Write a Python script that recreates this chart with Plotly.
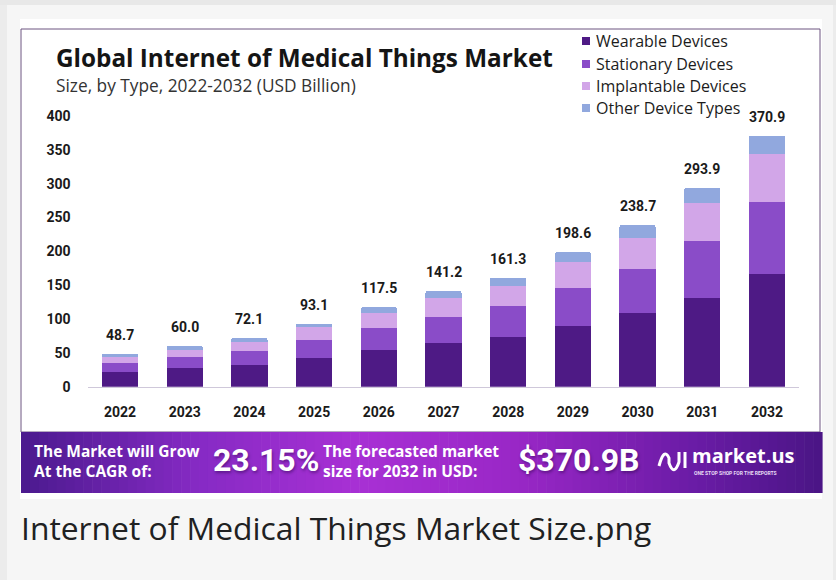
import plotly.graph_objects as go

# ---------------- data ----------------
years = ["2022", "2023", "2024", "2025", "2026", "2027", "2028", "2029", "2030", "2031", "2032"]
wearable = [21.3, 27.1, 32.0, 42.8, 53.6, 64.0, 72.8, 90.0, 108.2, 131.8, 166.8]
stationary = [13.2, 16.7, 21.2, 26.0, 33.0, 39.4, 45.8, 55.7, 66.4, 84.2, 106.3]
implantable = [9.8, 10.4, 13.2, 19.3, 22.2, 27.6, 30.5, 38.3, 45.8, 56.0, 70.4]
other = [4.4, 5.8, 5.7, 5.0, 8.7, 10.2, 12.2, 14.6, 18.3, 21.9, 27.4]
totals = [48.7, 60.0, 72.1, 93.1, 117.5, 141.2, 161.3, 198.6, 238.7, 293.9, 370.9]
total_labels = ["48.7", "60.0", "72.1", "93.1", "117.5", "141.2", "161.3", "198.6", "238.7", "293.9", "370.9"]
y_ticks = [0, 50, 100, 150, 200, 250, 300, 350, 400]
series_names = ["Wearable Devices", "Stationary Devices", "Implantable Devices", "Other Device Types"]
series_colors = ["#4e1a85", "#8a4cc8", "#d2a6e8", "#91a8de"]

W, H = 836, 580


def px(x):
    return x / W


def py(y):
    return 1 - y / H


fig = go.Figure()
for name, vals, col in zip(series_names, [wearable, stationary, implantable, other], series_colors):
    fig.add_trace(go.Bar(x=years, y=vals, name=name, marker=dict(color=col, line=dict(width=0)),
                         showlegend=False, hoverinfo="x+y+name"))

shapes = []
annotations = []

# ---- page frame ----
shapes.append(dict(type="rect", xref="paper", yref="paper", x0=0, x1=1, y0=py(5), y1=1,
                   fillcolor="#e8e8e8", line=dict(width=0), layer="below"))
shapes.append(dict(type="rect", xref="paper", yref="paper", x0=0, x1=px(7), y0=0, y1=py(5),
                   fillcolor="#ececec", line=dict(width=0), layer="below"))
shapes.append(dict(type="rect", xref="paper", yref="paper", x0=px(833), x1=1, y0=0, y1=py(5),
                   fillcolor="#ececec", line=dict(width=0), layer="below"))
# white image area
shapes.append(dict(type="rect", xref="paper", yref="paper", x0=px(20), x1=px(822), y0=py(499), y1=py(19),
                   fillcolor="#ffffff", line=dict(width=0), layer="below"))
# thin chart border
shapes.append(dict(type="rect", xref="paper", yref="paper", x0=px(21), x1=px(820), y0=py(432), y1=py(29),
                   fillcolor="rgba(0,0,0,0)", line=dict(width=1, color="#6d5580"), layer="below"))

# ---- banner gradient ----
stops = [(0.0, (0x4b, 0x1a, 0x8e)), (0.22, (0x86, 0x2a, 0xc4)), (0.42, (0xa8, 0x30, 0xd4)),
         (0.62, (0x99, 0x27, 0xc6)), (0.85, (0x68, 0x1b, 0xa4)), (1.0, (0x4a, 0x15, 0x85))]


def grad(t):
    for (t0, c0), (t1, c1) in zip(stops[:-1], stops[1:]):
        if t0 <= t <= t1:
            f = (t - t0) / (t1 - t0)
            return "rgb(%d,%d,%d)" % tuple(round(a + (b - a) * f) for a, b in zip(c0, c1))
    return "rgb(74,21,133)"


bx0, bx1, by0, by1 = 21, 822, 432, 493
n = 90
step = (bx1 - bx0) / n
for i in range(n):
    xa = bx0 + i * step
    shapes.append(dict(type="rect", xref="paper", yref="paper", x0=px(xa), x1=px(xa + step + 0.6),
                       y0=py(by1), y1=py(by0), fillcolor=grad((i + 0.5) / n), line=dict(width=0),
                       layer="below"))

# logo icon
shapes.append(dict(type="path", xref="paper", yref="paper",
                   path="M %f %f Q %f %f %f %f L %f %f Q %f %f %f %f L %f %f" % (
                       px(659), py(466), px(664), py(447), px(669), py(458),
                       px(669), py(463), px(674), py(477), px(679), py(462),
                       px(679), py(452)),
                   line=dict(color="white", width=3), fillcolor="rgba(0,0,0,0)", layer="above"))
shapes.append(dict(type="line", xref="paper", yref="paper", x0=px(685), x1=px(685), y0=py(468), y1=py(452),
                   line=dict(color="white", width=3), layer="above"))

# ---- legend (manual) ----
leg_rows = [41, 64, 86, 108]
for name, col, yy in zip(series_names, series_colors, leg_rows):
    shapes.append(dict(type="rect", xref="paper", yref="paper", x0=px(582), x1=px(590),
                       y0=py(yy + 4), y1=py(yy - 4), fillcolor=col, line=dict(width=0)))
    annotations.append(dict(text=name, xref="paper", yref="paper", x=px(594), y=py(yy),
                            xanchor="left", yanchor="middle", showarrow=False,
                            font=dict(family="Open Sans", size=16, color="#1c1c1c")))

# ---- titles ----
annotations.append(dict(text="Global Internet of Medical Things Market", xref="paper", yref="paper",
                        x=px(54), y=py(58), xanchor="left", yanchor="middle", showarrow=False,
                        font=dict(family="Open Sans", size=24.3, weight=700, color="#151515")))
annotations.append(dict(text="Size, by Type, 2022-2032 (USD Billion)", xref="paper", yref="paper",
                        x=px(54), y=py(86), xanchor="left", yanchor="middle", showarrow=False,
                        font=dict(family="Open Sans", size=17.3, color="#333333")))

# ---- totals above bars ----
for i, (tot, lab) in enumerate(zip(totals, total_labels)):
    annotations.append(dict(text=lab, x=i, y=tot, xref="x", yref="y", yshift=19, showarrow=False,
                            xanchor="center", yanchor="middle",
                            font=dict(family="Roboto", size=14, weight=700, color="#1a1a1a")))

# ---- banner texts ----
bfont = dict(family="Open Sans", size=15.5, weight=700, color="white")
for txt, xx in [("The Market will Grow<br>At the CAGR of:", 32),
                ("The forecasted market<br>size for 2032 in USD:", 321)]:
    annotations.append(dict(text=txt, xref="paper", yref="paper", x=px(xx), y=py(461),
                            xanchor="left", yanchor="middle", showarrow=False, align="left",
                            font=bfont))
big = dict(family="Roboto", size=32, weight=700, color="white", shadow="1px 2px 3px rgba(40,0,70,0.45)")
annotations.append(dict(text="23.15%", xref="paper", yref="paper",
                        x=px(211), y=py(460), xanchor="left", yanchor="middle", showarrow=False, font=big))
annotations.append(dict(text="$370.9B", xref="paper", yref="paper",
                        x=px(516), y=py(460), xanchor="left", yanchor="middle", showarrow=False, font=big))
annotations.append(dict(text="market.us", xref="paper", yref="paper",
                        x=px(690), y=py(455), xanchor="left", yanchor="middle", showarrow=False,
                        font=dict(family="Open Sans", size=20, weight=700, color="white")))
annotations.append(dict(text="ONE STOP SHOP FOR THE REPORTS", xref="paper", yref="paper",
                        x=px(692), y=py(473), xanchor="left", yanchor="middle", showarrow=False,
                        font=dict(family="Roboto", size=5, weight=700, color="#e8dcf5")))

# ---- caption ----
annotations.append(dict(text="Internet of Medical Things Market Size.png", xref="paper", yref="paper",
                        x=px(19), y=py(527), xanchor="left", yanchor="middle", showarrow=False,
                        font=dict(family="Open Sans", size=31.8, color="#202122")))

tickfont = dict(family="Roboto", size=14, weight=700, color="#1a1a1a")
fig.update_layout(
    width=W, height=H, autosize=False,
    margin=dict(l=0, r=0, t=0, b=0, pad=0, autoexpand=False),
    paper_bgcolor="#f6f6f6", plot_bgcolor="rgba(0,0,0,0)",
    barmode="stack", bargap=0.44, barcornerradius=2,
    showlegend=False,
    xaxis=dict(domain=[px(87.65), px(799.35)], type="category", categoryorder="array",
               categoryarray=years, range=[-0.5, 10.5], showgrid=False, zeroline=False,
               showline=True, linecolor="#cfc8da", linewidth=1, ticks="", tickfont=tickfont,
               ticklabelstandoff=12, fixedrange=True),
    yaxis=dict(domain=[py(386.7), py(116)], range=[0, 400], tickvals=y_ticks, showgrid=False,
               zeroline=False, showline=False, ticks="", tickfont=tickfont, ticklabelstandoff=16,
               fixedrange=True),
    shapes=shapes, annotations=annotations,
)

fig.write_html("out.html")
